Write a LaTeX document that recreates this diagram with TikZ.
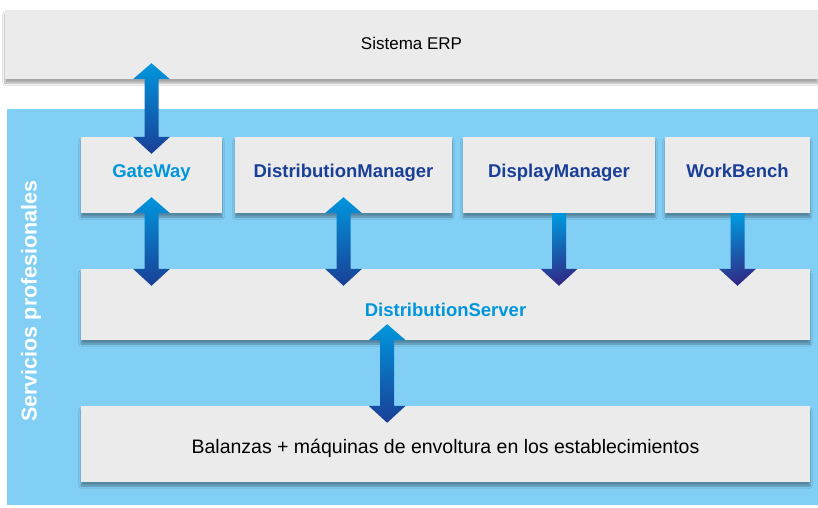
\documentclass[tikz,border=0pt]{standalone}
\usepackage{fontspec}
\setmainfont{Liberation Sans}
\usetikzlibrary{calc,shadows.blur}

\definecolor{panelblue}{HTML}{82CFF5}
\definecolor{boxgray}{HTML}{EBEBEB}
\definecolor{lightblue}{HTML}{0096DC}
\definecolor{darkblue}{HTML}{1A3F96}
\definecolor{midblue}{HTML}{0B5AA8}
\definecolor{deepblue}{HTML}{2F2A86}

\tikzset{
  box/.style={fill=boxgray, inner sep=0pt,
    blur shadow={shadow xshift=0pt, shadow yshift=-4pt, shadow opacity=35, shadow blur steps=6}},
  title/.style={font=\bfseries\fontsize{18.5}{20}\selectfont},
  plain/.style={font=\fontsize{17}{20}\selectfont}
}

% tykk pil begge veier: nedre kant av oevre boks, oevre kant av nedre boks
\newcommand\twoway[2]{%
  \path[top color=lightblue, middle color=midblue, bottom color=darkblue]
    let \p1=#1, \p2=#2 in
    (\x1,\y1+16pt) -- (\x1+18.5pt,\y1) -- (\x1+7pt,\y1) -- (\x1+7pt,\y2)
    -- (\x1+18.5pt,\y2) -- (\x1,\y2-17pt) -- (\x1-18.5pt,\y2) -- (\x1-7pt,\y2)
    -- (\x1-7pt,\y1) -- (\x1-18.5pt,\y1) -- cycle;}
% tykk pil en vei
\newcommand\oneway[2]{%
  \path[top color=lightblue, bottom color=deepblue, shading angle=15]
    let \p1=#1, \p2=#2 in
    (\x1-7pt,\y1) -- (\x1+7pt,\y1) -- (\x1+7pt,\y2) -- (\x1+18.5pt,\y2)
    -- (\x1,\y2-17pt) -- (\x1-18.5pt,\y2) -- (\x1-7pt,\y2) -- cycle;}

\begin{document}
\begin{tikzpicture}[x=1pt,y=-1pt]
  \useasboundingbox[fill=white] (0,0) rectangle (818,507);

  % ERP
  \node[box, plain, text height=13pt, text depth=4pt, minimum width=813pt, minimum height=69pt] (erp) at (411.5,44.5) {Sistema ERP};

  % Panel
  \fill[panelblue] (7,109) rectangle (818,505);
  \node[rotate=90, text=white, font=\bfseries\fontsize{21.5}{24}\selectfont] (side) at (31,301) {Servicios profesionales};

  % Moduler
  \foreach \x/\w/\name/\col/\txt in {151.5/141/gate/lightblue/GateWay,
      343.5/217/dman/darkblue/DistributionManager,
      559/192/disp/darkblue/DisplayManager,
      737.5/145/wb/darkblue/WorkBench} {
    \node[box, title, text=\col, text height=13pt, text depth=9pt, minimum width=\w pt, minimum height=76pt] (\name) at (\x,175) {\txt};
  }

  % Server og butikk
  \node[box, title, text=lightblue, text height=26pt, text depth=3pt, minimum width=729pt, minimum height=71pt] (server) at (445.5,304.5) {DistributionServer};
  \node[box, plain, font=\fontsize{19.5}{22}\selectfont, text height=22pt, text depth=4pt, minimum width=729pt, minimum height=76pt] (shop) at (445.5,444) {Balanzas + m\'aquinas de envoltura en los establecimientos};

  % Piler
  \twoway{(erp.south -| gate.south)}{(gate.north)}
  \twoway{(gate.south)}{(server.north -| gate.south)}
  \twoway{(dman.south)}{(server.north -| dman.south)}
  \oneway{(disp.south)}{(server.north -| disp.south)}
  \oneway{(wb.south)}{(server.north -| wb.south)}
  \coordinate (link) at ($(server.south west)!0.42!(server.south east)$);
  \twoway{(link)}{(shop.north -| link)}
\end{tikzpicture}
\end{document}
